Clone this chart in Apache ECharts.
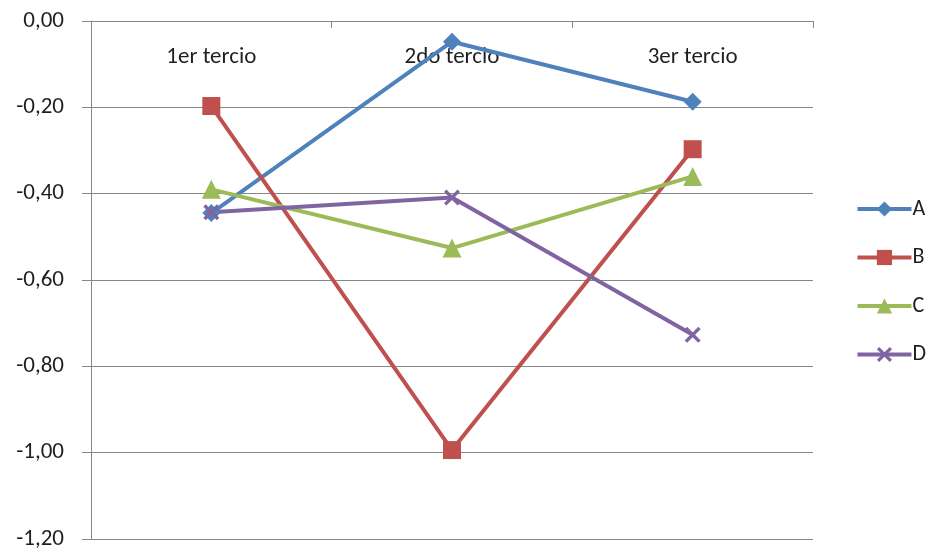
<!DOCTYPE html>
<html>
<head>
<meta charset="utf-8">
<style>
  html, body { margin: 0; padding: 0; background: #fff; }
  #chart { width: 928px; height: 553px; }
</style>
<script src="https://cdn.jsdelivr.net/npm/echarts@6/dist/echarts.min.js"></script>
</head>
<body>
<div id="chart"></div>
<script>
// Categories (thirds of the period)
const categories = ['1er tercio', '2do tercio', '3er tercio'];

// Series values
const seriesA = [-0.445, -0.048, -0.187];
const seriesB = [-0.197, -0.994, -0.297];
const seriesC = [-0.390, -0.526, -0.360];
const seriesD = [-0.443, -0.409, -0.727];

// Value axis range
const yMin = -1.2;
const yMax = 0;
const yStep = 0.2;

const FONT = 'Carlito, Calibri, Lato, sans-serif';
const TEXT = '#1f1f1f';
const GRID = '#878787';

// Filled "x" marker outline
const crossPath = 'path://M0,1.5L1.5,0L5,3.5L8.5,0L10,1.5L6.5,5L10,8.5L8.5,10L5,6.5L1.5,10L0,8.5L3.5,5Z';

function lineSeries(name, data, color, symbol, size) {
  return {
    name: name,
    type: 'line',
    data: data,
    symbol: symbol,
    symbolSize: size,
    showAllSymbol: true,
    lineStyle: { color: color, width: 4 },
    itemStyle: { color: color },
    emphasis: { disabled: true },
    animation: false
  };
}

const chart = echarts.init(document.getElementById('chart'));
chart.setOption({
  backgroundColor: '#fff',
  animation: false,
  grid: { left: 91, right: 115, top: 21, bottom: 14, containLabel: false },
  legend: {
    orient: 'vertical',
    right: 2,
    top: 198,
    padding: 0,
    itemWidth: 54,
    itemHeight: 19,
    itemGap: 26.5,
    lineStyle: { width: 4 },
    textStyle: { fontFamily: FONT, fontSize: 22, color: TEXT, padding: [0, 0, 0, -4] },
    data: ['A', 'B', 'C', 'D']
  },
  xAxis: {
    type: 'category',
    position: 'top',
    data: categories,
    boundaryGap: true,
    axisLine: { show: true, lineStyle: { color: GRID, width: 1 } },
    axisTick: { show: true, inside: true, length: 7, lineStyle: { color: GRID } },
    axisLabel: {
      inside: true,
      margin: 25,
      fontFamily: FONT,
      fontSize: 23,
      color: TEXT
    },
    splitLine: { show: false }
  },
  yAxis: {
    type: 'value',
    min: yMin,
    max: yMax,
    interval: yStep,
    axisLine: { show: true, lineStyle: { color: GRID, width: 1 } },
    axisTick: { show: true, length: 9, lineStyle: { color: GRID } },
    axisLabel: {
      margin: 27,
      fontFamily: FONT,
      fontSize: 23,
      color: TEXT,
      formatter: v => v.toFixed(2).replace('.', ',')
    },
    splitLine: { show: true, lineStyle: { color: GRID, width: 1 } }
  },
  series: [
    lineSeries('A', seriesA, '#4F81BD', 'diamond', 18),
    lineSeries('B', seriesB, '#C0504D', 'rect', 18),
    lineSeries('C', seriesC, '#9BBB59', 'triangle', 19),
    lineSeries('D', seriesD, '#8064A2', crossPath, 16)
  ]
});
</script>
</body>
</html>
